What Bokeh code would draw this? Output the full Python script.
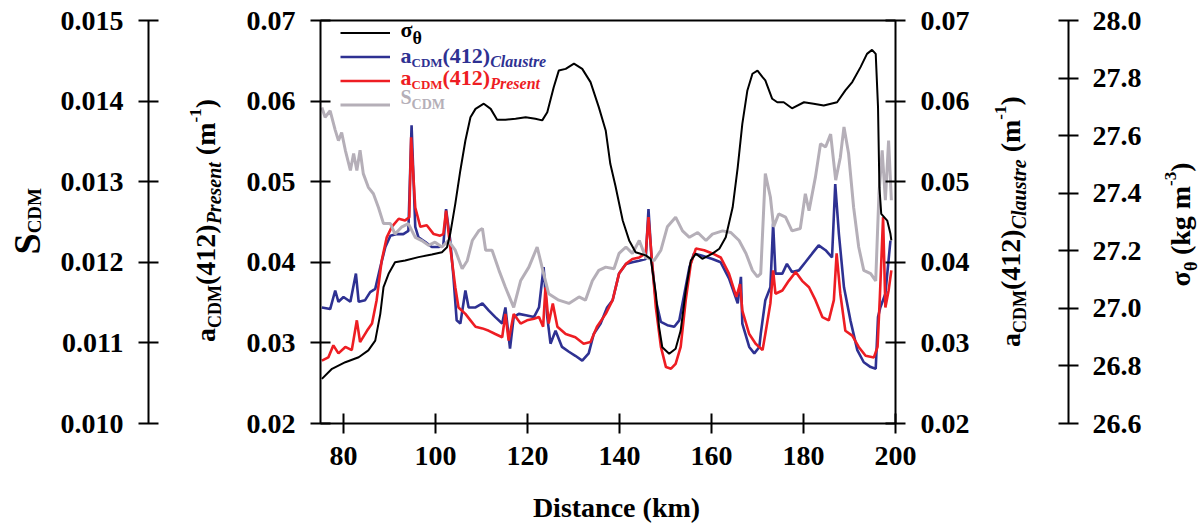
import math
from bokeh.plotting import figure
from bokeh.models import (Range1d, LinearAxis, FixedTicker, PrintfTickFormatter,
                          Label, Legend, LegendItem)
from bokeh.embed import file_html
from bokeh.resources import INLINE

# ---------------- data ----------------
sigma_km = [75.3, 77.5, 80.4, 83.3, 85.4, 86.9, 88.0, 88.7, 89.8, 91.2, 93.4, 96.3, 99.2, 101.4,
            102.5, 103.2, 104.3, 105.4, 106.5, 107.6, 108.7, 110.5, 112.0, 113.4, 115.2, 117.4,
            119.6, 121.7, 123.2, 124.3, 125.7, 126.8, 128.3, 130.1, 131.9, 133.7, 135.5, 137.0,
            138.0, 139.1, 140.7, 142.1, 143.5, 145.7, 146.8, 147.9, 148.6, 149.3, 150.8, 152.2,
            153.3, 154.4, 155.5, 156.6, 158.0, 160.2, 161.7, 163.1, 164.6, 165.7, 166.7, 167.8,
            168.9, 170.0, 171.1, 171.7, 173.2, 174.3, 175.7, 177.5, 180.1, 182.2, 184.4, 187.3,
            189.1, 190.6, 192.4, 193.8, 194.9, 195.7, 196.2, 196.5, 196.9, 198.2, 198.9, 199.1]
sigma_theta = [26.755, 26.79, 26.813, 26.83, 26.854, 26.888, 26.981, 27.074, 27.12, 27.16, 27.166,
               27.178, 27.187, 27.195, 27.212, 27.259, 27.363, 27.479, 27.583, 27.664, 27.693,
               27.711, 27.693, 27.655, 27.655, 27.659, 27.664, 27.659, 27.653, 27.681, 27.768,
               27.826, 27.832, 27.85, 27.832, 27.786, 27.699, 27.618, 27.502, 27.427, 27.305,
               27.236, 27.195, 27.184, 27.172, 27.051, 26.935, 26.865, 26.842, 26.86, 26.923,
               27.062, 27.166, 27.19, 27.172, 27.19, 27.207, 27.247, 27.351, 27.49, 27.641,
               27.757, 27.815, 27.826, 27.803, 27.792, 27.728, 27.716, 27.716, 27.695, 27.716,
               27.711, 27.705, 27.716, 27.757, 27.786, 27.838, 27.884, 27.898, 27.884, 27.699,
               27.421, 27.328, 27.305, 27.259, 27.236]

claustre_km = [75.3, 77.1, 78.2, 78.9, 80.0, 81.5, 82.7, 83.3, 84.7, 85.8, 86.9, 88.0, 89.1, 90.2,
               91.6, 93.0, 94.1, 94.8, 95.6, 96.3, 97.8, 99.2, 100.7, 101.7, 102.3, 103.2, 103.9,
               104.6, 105.4, 106.5, 107.2, 108.7, 110.2, 111.6, 113.0, 114.5, 115.2, 116.2, 117.0,
               118.1, 119.9, 121.4, 122.5, 123.5, 124.3, 125.0, 126.1, 127.5, 129.0, 130.4, 131.9,
               133.3, 134.4, 135.9, 137.3, 138.5, 139.9, 141.4, 142.8, 144.3, 145.7, 146.3, 147.0,
               147.9, 149.0, 150.4, 151.9, 153.0, 154.1, 155.2, 156.2, 158.0, 160.2, 162.0, 163.8,
               165.7, 166.4, 166.7, 168.2, 169.3, 170.4, 170.7, 171.7, 172.8, 173.4, 173.9, 175.4,
               176.4, 177.5, 179.0, 180.4, 181.9, 183.3, 184.8, 186.2, 186.9, 187.7, 188.8, 190.2,
               191.7, 193.1, 194.6, 195.7, 196.2, 196.7, 197.8, 198.9]
a_claustre = [0.0344, 0.0342, 0.0365, 0.0351, 0.0357, 0.0351, 0.0386, 0.0351, 0.0353, 0.0363,
              0.0367, 0.0394, 0.0419, 0.0433, 0.0435, 0.0435, 0.0439, 0.0570, 0.0444, 0.0431,
              0.0425, 0.0419, 0.0419, 0.0421, 0.0466, 0.0427, 0.0382, 0.0328, 0.0324, 0.0365,
              0.0344, 0.0344, 0.0349, 0.0340, 0.0332, 0.0324, 0.0344, 0.0293, 0.0332, 0.0336,
              0.0334, 0.0332, 0.0344, 0.0394, 0.0332, 0.0299, 0.0315, 0.0295, 0.0289, 0.0284,
              0.0278, 0.0287, 0.0311, 0.0324, 0.0344, 0.0353, 0.0386, 0.0398, 0.0400, 0.0402,
              0.0404, 0.0466, 0.0402, 0.0353, 0.0326, 0.0322, 0.0320, 0.0328, 0.0361, 0.0394,
              0.0411, 0.0408, 0.0404, 0.0400, 0.0380, 0.0349, 0.0382, 0.0324, 0.0295, 0.0287,
              0.0295, 0.0311, 0.0353, 0.0369, 0.0448, 0.0386, 0.0386, 0.0398, 0.0388, 0.0390,
              0.0400, 0.0411, 0.0421, 0.0415, 0.0406, 0.0497, 0.0435, 0.0369, 0.0328, 0.0291,
              0.0276, 0.0270, 0.0268, 0.0332, 0.0344, 0.0361, 0.0427]

present_km = [75.3, 76.7, 77.8, 78.9, 80.4, 81.8, 82.9, 83.6, 85.1, 86.2, 87.2, 88.3, 89.4, 90.5,
              92.0, 93.4, 94.3, 94.7, 95.6, 96.7, 98.1, 99.6, 101.0, 101.7, 102.3, 103.2, 104.3,
              105.0, 106.5, 107.6, 108.7, 110.2, 111.6, 113.0, 114.5, 115.2, 115.9, 117.0, 118.5,
              119.9, 121.4, 122.5, 123.4, 123.9, 124.6, 125.5, 126.5, 128.3, 130.4, 132.2, 133.7,
              135.1, 137.0, 138.5, 139.9, 141.4, 142.8, 144.3, 145.7, 146.3, 147.0, 147.9, 149.0,
              150.1, 151.2, 152.2, 153.3, 154.4, 155.5, 156.6, 158.4, 160.2, 162.0, 163.8, 165.4,
              166.2, 166.7, 168.2, 169.6, 171.1, 171.7, 172.8, 173.4, 173.9, 175.4, 176.8, 178.3,
              179.7, 181.2, 182.6, 184.1, 185.5, 186.6, 187.2, 188.0, 189.1, 190.6, 192.0, 193.5,
              195.3, 196.1, 196.6, 197.3, 197.8, 198.5, 199.1]
a_present = [0.0278, 0.0282, 0.0297, 0.0287, 0.0295, 0.0291, 0.0328, 0.0301, 0.0315, 0.0324,
             0.0353, 0.0402, 0.0431, 0.0444, 0.0454, 0.0452, 0.0456, 0.0555, 0.0468, 0.0444,
             0.0446, 0.0435, 0.0433, 0.0435, 0.0464, 0.0419, 0.0369, 0.0344, 0.0336, 0.0328,
             0.0320, 0.0318, 0.0315, 0.0311, 0.0307, 0.0336, 0.0303, 0.0336, 0.0324, 0.0328,
             0.0330, 0.0332, 0.0320, 0.0369, 0.0324, 0.0349, 0.0320, 0.0311, 0.0307, 0.0299,
             0.0301, 0.0320, 0.0336, 0.0353, 0.0386, 0.0398, 0.0404, 0.0406, 0.0411, 0.0456,
             0.0406, 0.0344, 0.0295, 0.0270, 0.0268, 0.0274, 0.0295, 0.0353, 0.0398, 0.0417,
             0.0415, 0.0411, 0.0406, 0.0386, 0.0357, 0.0373, 0.0340, 0.0311, 0.0299, 0.0291,
             0.0311, 0.0349, 0.0390, 0.0361, 0.0365, 0.0377, 0.0388, 0.0377, 0.0369, 0.0353,
             0.0332, 0.0328, 0.0353, 0.0411, 0.0361, 0.0315, 0.0309, 0.0295, 0.0284, 0.0282,
             0.0295, 0.0357, 0.0456, 0.0344, 0.0365, 0.0390]

scdm_km = [75.3, 76.0, 77.1, 78.2, 78.9, 79.6, 80.4, 81.5, 82.2, 82.9, 83.6, 84.3, 85.4, 86.5,
           87.6, 88.7, 90.2, 91.2, 92.7, 94.1, 95.6, 97.0, 98.5, 99.9, 101.4, 102.8, 104.3,
           105.8, 106.9, 108.0, 109.4, 110.2, 110.9, 112.3, 113.8, 115.2, 117.0, 118.5, 120.3,
           122.1, 123.5, 124.6, 126.8, 129.0, 131.2, 132.6, 134.1, 135.5, 137.0, 138.8, 139.9,
           141.4, 142.8, 144.3, 145.7, 147.5, 149.0, 150.4, 152.2, 153.7, 155.2, 157.0, 158.8,
           160.2, 162.4, 164.2, 166.0, 167.5, 168.9, 170.0, 170.7, 171.7, 172.8, 173.5, 174.6,
           176.1, 177.5, 179.3, 180.4, 181.2, 182.6, 183.7, 184.8, 185.9, 187.0, 188.0, 188.8,
           189.8, 190.9, 192.0, 193.1, 194.6, 195.7, 196.4, 197.1, 197.8, 198.5, 199.1]
s_cdm = [0.01392, 0.01380, 0.01388, 0.01364, 0.01351, 0.01361, 0.01339, 0.01314, 0.01335, 0.01314,
         0.01339, 0.01310, 0.01293, 0.01285, 0.01268, 0.01248, 0.01248, 0.01235, 0.01244, 0.01248,
         0.01231, 0.01227, 0.01221, 0.01225, 0.01219, 0.01227, 0.01215, 0.01192, 0.01202, 0.01227,
         0.01239, 0.01242, 0.01215, 0.01215, 0.01190, 0.01169, 0.01144, 0.01177, 0.01194, 0.01219,
         0.01186, 0.01161, 0.01153, 0.01149, 0.01157, 0.01153, 0.01177, 0.01190, 0.01194, 0.01192,
         0.01211, 0.01219, 0.01211, 0.01227, 0.01206, 0.01202, 0.01215, 0.01244, 0.01256, 0.01239,
         0.01231, 0.01237, 0.01227, 0.01235, 0.01239, 0.01237, 0.01227, 0.01211, 0.01190, 0.01182,
         0.01186, 0.01310, 0.01281, 0.01244, 0.01260, 0.01256, 0.01239, 0.01242, 0.01285, 0.01264,
         0.01306, 0.01347, 0.01343, 0.01359, 0.01302, 0.01330, 0.01368, 0.01335, 0.01268, 0.01219,
         0.01190, 0.01186, 0.01177, 0.01285, 0.01339, 0.01277, 0.01351, 0.01277]

x_ticks = [80, 100, 120, 140, 160, 180, 200]
a_ticks = [0.02, 0.03, 0.04, 0.05, 0.06, 0.07]
s_ticks = [0.010, 0.011, 0.012, 0.013, 0.014, 0.015]
sig_ticks = [26.6, 26.8, 27.0, 27.2, 27.4, 27.6, 27.8, 28.0]

# ---------------- layout ----------------
W, H = 1200, 527
PL, PR, PT, PB = 320, 895, 20, 423     # plot box edges in pixels
X0, X1 = 75, 200
A0, A1 = 0.02, 0.07
S0, S1 = 0.010, 0.015
G0, G1 = 26.6, 28.0
FONT = "Liberation Serif"
BLUE, RED, GRAY = "#2E3192", "#EE1D23", "#B5AFB8"
BASE_FIX = 0.36   # renderer places the alphabetic baseline this many ems low


def dx(px):
    return X0 + (px - PL) * (X1 - X0) / (PR - PL)


def dy(py):
    return A1 - (py - PT) * (A1 - A0) / (PB - PT)


def a2s(a):
    return S0 + (a - A0) * (S1 - S0) / (A1 - A0)


def a2g(a):
    return G0 + (a - A0) * (G1 - G0) / (A1 - A0)


ylo, yhi = dy(H), dy(0)
p = figure(width=W, height=H, output_backend="svg", toolbar_location=None,
           x_range=Range1d(dx(0), dx(W)), y_range=Range1d(ylo, yhi),
           min_border_left=0, min_border_right=0, min_border_top=0, min_border_bottom=0)
p.extra_y_ranges = {"claustre": Range1d(ylo, yhi),
                    "scdm": Range1d(a2s(ylo), a2s(yhi)),
                    "sigma": Range1d(a2g(ylo), a2g(yhi))}
p.xgrid.visible = False
p.ygrid.visible = False
p.outline_line_color = None
p.background_fill_color = "white"
p.border_fill_color = "white"


def style(ax, standoff=15):
    ax.axis_line_width = 2
    ax.axis_line_color = "black"
    ax.major_tick_in = 10
    ax.major_tick_out = 10
    ax.major_tick_line_width = 2
    ax.major_tick_line_color = "black"
    ax.minor_tick_line_color = None
    ax.major_label_text_font = FONT
    ax.major_label_text_font_size = "28px"
    ax.major_label_text_font_style = "bold"
    ax.major_label_text_color = "black"
    ax.major_label_standoff = standoff


xa = p.xaxis[0]
xa.ticker = FixedTicker(ticks=x_ticks)
xa.fixed_location = A0
xa.bounds = (X0, X1)
style(xa, 13)

top = LinearAxis(ticker=FixedTicker(ticks=[]), fixed_location=A1, bounds=(X0, X1),
                 major_label_text_font_size="0px")
style(top)
p.add_layout(top, "above")

ya = p.yaxis[0]
ya.ticker = FixedTicker(ticks=a_ticks)
ya.formatter = PrintfTickFormatter(format="%.2f")
ya.fixed_location = X0
ya.bounds = (A0, A1)
style(ya)

ra = LinearAxis(y_range_name="claustre", ticker=FixedTicker(ticks=a_ticks),
                formatter=PrintfTickFormatter(format="%.2f"), fixed_location=X1, bounds=(A0, A1))
style(ra)
p.add_layout(ra, "right")

sa = LinearAxis(y_range_name="scdm", ticker=FixedTicker(ticks=s_ticks),
                formatter=PrintfTickFormatter(format="%.3f"), fixed_location=dx(148),
                bounds=(S0, S1))
style(sa)
p.add_layout(sa, "left")

ga = LinearAxis(y_range_name="sigma", ticker=FixedTicker(ticks=sig_ticks),
                formatter=PrintfTickFormatter(format="%.1f"), fixed_location=dx(1068),
                bounds=(G0, G1))
style(ga, 14)
p.add_layout(ga, "right")

# ---------------- series ----------------
r_blue = p.line(claustre_km, a_claustre, y_range_name="claustre", line_color=BLUE, line_width=2.6)
r_red = p.line(present_km, a_present, line_color=RED, line_width=2.6)
r_gray = p.line(scdm_km, s_cdm, y_range_name="scdm", line_color=GRAY, line_width=3)
r_black = p.line(sigma_km, sigma_theta, y_range_name="sigma", line_color="black", line_width=2)

legend = Legend(items=[LegendItem(label="", renderers=[r_black]),
                       LegendItem(label="", renderers=[r_blue]),
                       LegendItem(label="", renderers=[r_red]),
                       LegendItem(label="", renderers=[r_gray])],
                location=(340, H - 114.5), margin=0, padding=0, spacing=3,
                glyph_width=50, glyph_height=21, label_height=21, label_width=0,
                label_standoff=0, label_text_font_size="10px",
                border_line_alpha=0, background_fill_alpha=0)
p.add_layout(legend)

# ---------------- rich text (sub/superscripts) ----------------
BW = {"a": .5, "C": .722, "D": .722, "M": .944, "(": .333, ")": .333, "4": .5, "1": .5,
      "2": .5, "3": .5, " ": .25, "m": .833, "-": .333, "k": .556, "g": .5, "S": .556,
      "σ": .55, "θ": .5}
IW = {"C": .667, "l": .278, "a": .5, "u": .556, "s": .389, "t": .278, "r": .389, "e": .444,
      "P": .611, "n": .556}


def width(s, size, style):
    table = IW if "italic" in style else BW
    return sum(table.get(c, .5) for c in s) * size


def put(s, px, py, size, color, style, angle=0.0, align="left"):
    if angle:
        px -= BASE_FIX * size
    else:
        py -= BASE_FIX * size
    p.add_layout(Label(x=dx(px), y=dy(py), text=s, text_font=FONT,
                       text_font_size=f"{size}px", text_font_style=style, text_color=color,
                       text_align=align, text_baseline="alphabetic", angle=angle))


def hrun(pieces, x, base, color):
    for s, size, style, off in pieces:
        lead = len(s) - len(s.lstrip(" "))
        x += lead * width(" ", size, style)
        s = s.lstrip(" ")
        put(s, x, base + off, size, color, style)
        x += width(s, size, style)


def vrun(pieces, basex, y, color):
    for s, size, style, off in pieces:
        lead = len(s) - len(s.lstrip(" "))
        y -= lead * width(" ", size, style)
        s = s.lstrip(" ")
        put(s, basex + off, y, size, color, style, math.pi / 2)
        y -= width(s, size, style)


# legend texts
hrun([("σ", 22, "bold", 0), ("θ", 18, "bold", 7)], 400, 37, "black")
hrun([("a", 22, "bold", 0), ("CDM", 13, "bold", 4), ("(412)", 22, "bold", 0),
      ("Claustre", 16, "bold italic", 4)], 400, 63, BLUE)
hrun([("a", 22, "bold", 0), ("CDM", 13, "bold", 4), ("(412)", 22, "bold", 0),
      ("Present", 16, "bold italic", 4)], 400, 85, RED)
hrun([("S", 20, "bold", 0), ("CDM", 14, "bold", 5)], 400, 104, GRAY)

# axis titles
put("Distance (km)", 616, 517, 28, "black", "bold", align="center")
vrun([("S", 38, "bold", 0), ("CDM", 19, "bold", 1)], 40, 254, "black")
vrun([("a", 28, "bold", 0), ("CDM", 18, "bold", 6), ("(412)", 28, "bold", 0),
      ("Present", 20, "bold italic", 6), (" (m", 28, "bold", 0), ("-1", 17, "bold", -14),
      (")", 28, "bold", 0)], 215, 341.5, "black")
vrun([("a", 28, "bold", 0), ("CDM", 18, "bold", 6), ("(412)", 28, "bold", 0),
      ("Claustre", 20, "bold italic", 6), (" (m", 28, "bold", 0), ("-1", 17, "bold", -14),
      (")", 28, "bold", 0)], 1020, 346.5, "black")
vrun([("σ", 28, "bold", 0), ("θ", 18, "bold", 7), (" (kg m", 28, "bold", 0),
      ("-3", 17, "bold", -14), (")", 28, "bold", 0)], 1190, 286, "black")

open("out.html", "w").write(file_html(p, INLINE))
